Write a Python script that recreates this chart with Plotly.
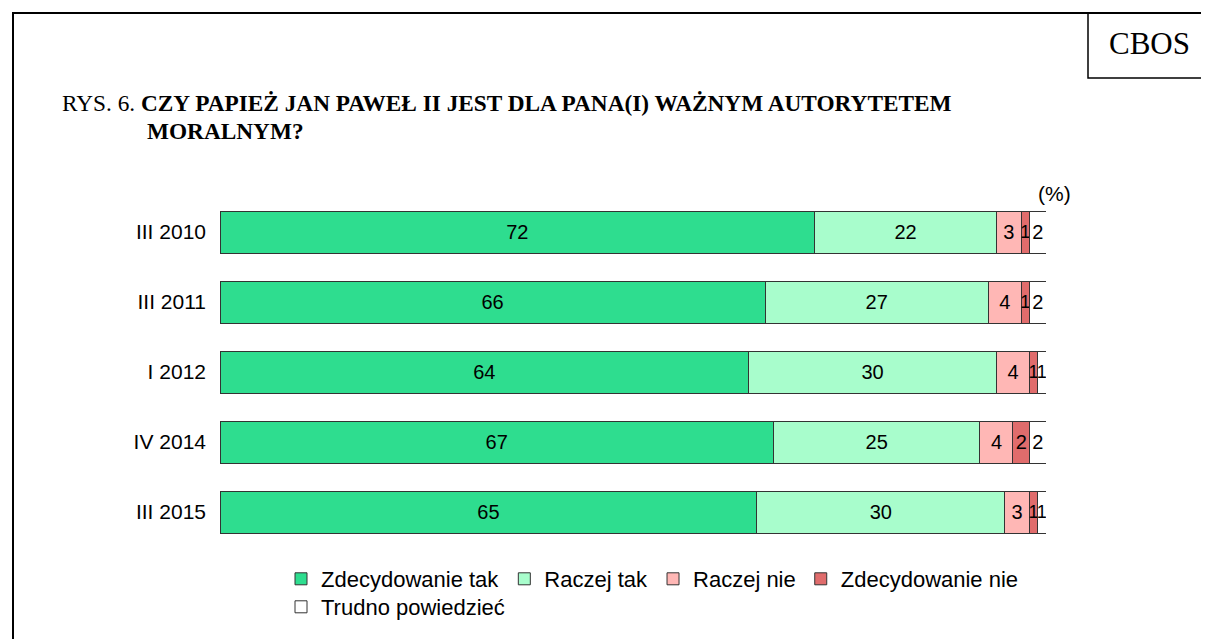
import plotly.graph_objects as go

categories = ["III 2010", "III 2011", "I 2012", "IV 2014", "III 2015"]
series_names = ["Zdecydowanie tak", "Raczej tak", "Raczej nie", "Zdecydowanie nie", "Trudno powiedzieć"]
zdecydowanie_tak = [72, 66, 64, 67, 65]
raczej_tak = [22, 27, 30, 25, 30]
raczej_nie = [3, 4, 4, 4, 3]
zdecydowanie_nie = [1, 1, 1, 2, 1]
trudno = [2, 2, 1, 2, 1]
series_values = [zdecydowanie_tak, raczej_tak, raczej_nie, zdecydowanie_nie, trudno]
colors = ["#2EDD8F", "#A8FDCC", "#FFB7B5", "#E06C6C", "#FFFFFF"]

OFF = 8  # page body margin
W, H = 1209, 639
L, R, T, B = 220 - OFF, 163 + OFF, 197 - OFF, 92 + OFF
pw, ph = W - L - R, H - T - B
SANS = "Liberation Sans, Arial"
SERIF = "Liberation Serif, Times New Roman"
FS = 21

def px_x(x):
    # reference screen x -> paper coordinate
    return (x - OFF - L) / pw

def px_y(y):
    return (H - B - (y - OFF)) / ph

fig = go.Figure()
for i, (name, vals, col) in enumerate(zip(series_names, series_values, colors)):
    sizes = [18 if v <= 1 else 20 for v in vals]
    fig.add_trace(go.Bar(
        y=categories, x=vals, name=name, orientation="h",
        marker=dict(color=col, line=dict(color="#333333", width=1)),
        width=0.6,
        text=[str(v) for v in vals], textposition="inside",
        insidetextanchor="middle", textangle=0, constraintext="none",
        textfont=dict(family=SANS, size=sizes, color="black"),
        legend="legend" if i < 4 else "legend2",
        hoverinfo="skip",
    ))

fig.update_layout(
    width=W, height=H,
    margin=dict(l=L, r=R, t=T, b=B),
    barmode="stack",
    paper_bgcolor="white", plot_bgcolor="white",
    font=dict(family=SANS, size=FS, color="black"),
    xaxis=dict(range=[0, 100], visible=False, fixedrange=True),
    yaxis=dict(autorange=False, range=[4.5, -0.5], type="category",
               categoryorder="array", categoryarray=categories,
               showgrid=False, showline=False, zeroline=False, ticks="",
               ticklabelstandoff=13, tickfont=dict(size=FS)),
    legend=dict(orientation="h", x=px_x(281), y=px_y(558), xanchor="left", yanchor="top",
                font=dict(size=22), traceorder="normal", bgcolor="rgba(0,0,0,0)",
                itemwidth=30),
    legend2=dict(orientation="h", x=px_x(281), y=px_y(586), xanchor="left", yanchor="top",
                 font=dict(size=22), bgcolor="rgba(0,0,0,0)", itemwidth=30),
    showlegend=True,
)

# frame and CBOS box
fig.add_shape(type="rect", xref="paper", yref="paper",
              x0=px_x(13), x1=px_x(1240), y0=px_y(680), y1=px_y(13),
              line=dict(color="black", width=2), fillcolor="rgba(0,0,0,0)", layer="below")
fig.add_shape(type="rect", xref="paper", yref="paper",
              x0=px_x(1088), x1=px_x(1240), y0=px_y(78), y1=px_y(13),
              line=dict(color="black", width=1.5), fillcolor="rgba(0,0,0,0)", layer="below")

fig.add_annotation(xref="paper", yref="paper", x=px_x(1149), y=px_y(43),
                   text="CBOS", showarrow=False, xanchor="center", yanchor="middle",
                   font=dict(family=SERIF, size=31))
fig.add_annotation(xref="paper", yref="paper", x=px_x(60), y=px_y(103),
                   text="RYS. 6. <b>CZY PAPIEŻ JAN PAWEŁ II JEST DLA PANA(I) WAŻNYM AUTORYTETEM</b>",
                   showarrow=False, xanchor="left", yanchor="middle",
                   font=dict(family=SERIF, size=23.3))
fig.add_annotation(xref="paper", yref="paper", x=px_x(145), y=px_y(131),
                   text="<b>MORALNYM?</b>",
                   showarrow=False, xanchor="left", yanchor="middle",
                   font=dict(family=SERIF, size=23.3))
fig.add_annotation(xref="paper", yref="paper", x=px_x(1073), y=px_y(193),
                   text="(%)", showarrow=False, xanchor="right", yanchor="middle",
                   font=dict(family=SANS, size=FS))

fig.write_html("out.html")
